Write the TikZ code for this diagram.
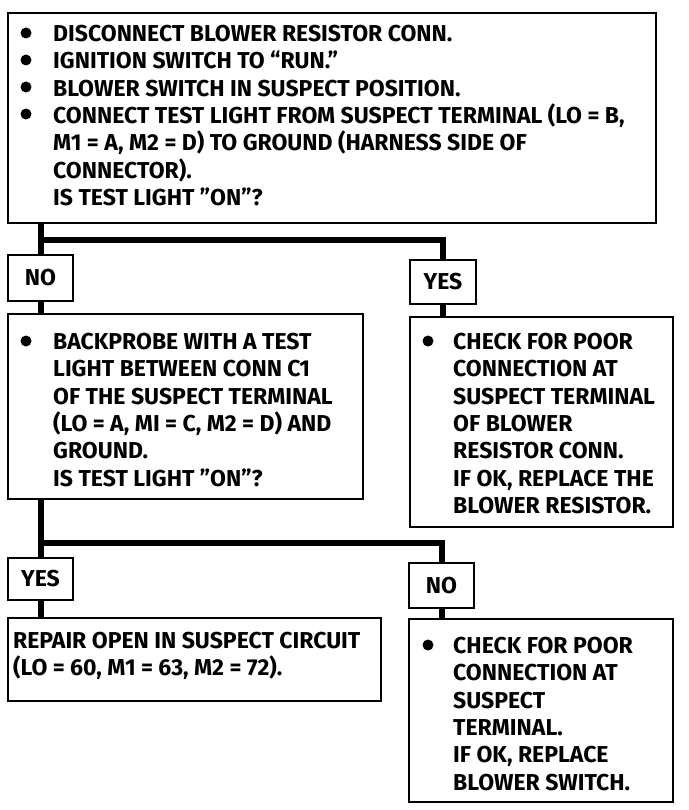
\documentclass[tikz,border=0pt]{standalone}
\usepackage{fontspec}
\setmainfont{Fira Sans}
\newfontfamily\dfont{Fira Sans}
\begin{document}
\begin{tikzpicture}[x=1pt,y=-1pt,
  box/.style={draw, line width=2pt, inner sep=0pt, anchor=north west},
  lbl/.style={box, minimum width=65pt, minimum height=44pt, font=\dfont\bfseries\fontsize{23}{27.3}\selectfont},
  txt/.style={anchor=north west, inner sep=0pt, align=left, font=\dfont\bfseries\fontsize{23}{27.3}\selectfont},
  conn/.style={line width=6pt, line join=miter},
  bul/.style={circle, fill, inner sep=0pt, minimum size=11pt}]
\useasboundingbox (0,0) rectangle (688,810);
% boxes
\node[box, minimum width=648pt, minimum height=210pt] (b1) at (7,12) {};
\node[lbl, minimum height=46pt] (no1) at (7,254) {NO};
\node[lbl, minimum width=66pt] (yes1) at (409,259) {YES};
\node[box, minimum width=355pt, minimum height=185pt] (b2) at (7,313) {};
\node[box, minimum width=263pt, minimum height=210pt] (b3) at (409,316) {};
\node[lbl, minimum height=42pt] (yes2) at (7,557) {YES};
\node[lbl, minimum height=45pt] (no2) at (408,562) {NO};
\node[box, minimum width=373pt, minimum height=83pt] (b4) at (7,617) {};
\node[box, minimum width=264pt, minimum height=183pt] (b5) at (408,618) {};
\coordinate (j1) at (0,240);
\coordinate (j2) at (0,543);
% connectors
\draw[conn] (b1.south -| no1.north) -- (no1.north);
\draw[conn] (j1 -| no1.north) -| (yes1.north);
\draw[conn] (no1.south) -- (b2.north -| no1.south);
\draw[conn] (yes1.south) -- (b3.north -| yes1.south);
\draw[conn] (b2.south -| yes2.north) -- (yes2.north);
\draw[conn] (j2 -| yes2.north) -| (no2.north);
\draw[conn] (yes2.south) -- (b4.north -| yes2.south);
\draw[conn] (no2.south) -- (b5.north -| no2.south);
% texts
\node[txt] (t1) at (53,25) {DISCONNECT BLOWER RESISTOR CONN.\\
IGNITION SWITCH TO “RUN.”\\
BLOWER SWITCH IN SUSPECT POSITION.\\
CONNECT TEST LIGHT FROM SUSPECT TERMINAL (LO = B,\\
M1 = A, M2 = D) TO GROUND (HARNESS SIDE OF\\
CONNECTOR).\\
IS TEST LIGHT ”ON”?};
\node[bul] (p1) at (26,33) {};
\node[bul] (p2) at (26,60) {};
\node[bul] (p3) at (26,87) {};
\node[bul] (p4) at (26,114) {};
\node[txt] (t2) at (53,333) {BACKPROBE WITH A TEST\\
LIGHT BETWEEN CONN C1\\
OF THE SUSPECT TERMINAL\\
(LO = A, MI = C, M2 = D) AND\\
GROUND.\\
IS TEST LIGHT ”ON”?};
\node[bul] (p5) at (26,341) {};
\node[txt] (t3) at (453,333) {CHECK FOR POOR\\
CONNECTION AT\\
SUSPECT TERMINAL\\
OF BLOWER\\
RESISTOR CONN.\\
IF OK, REPLACE THE\\
BLOWER RESISTOR.};
\node[bul] (p6) at (428,341) {};
\node[txt] (t4) at (13,632) {REPAIR OPEN IN SUSPECT CIRCUIT\\
(LO = 60, M1 = 63, M2 = 72).};
\node[txt] (t5) at (453,637) {CHECK FOR POOR\\
CONNECTION AT\\
SUSPECT\\
TERMINAL.\\
IF OK, REPLACE\\
BLOWER SWITCH.};
\node[bul] (p7) at (428,645) {};
\end{tikzpicture}
\end{document}
